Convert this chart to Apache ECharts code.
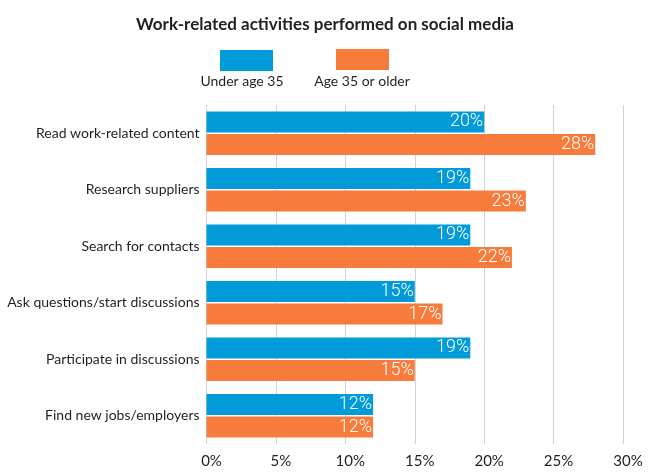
<!DOCTYPE html>
<html>
<head>
<meta charset="utf-8">
<script src="https://cdn.jsdelivr.net/npm/echarts@6/dist/echarts.min.js"></script>
<style>
html,body{margin:0;padding:0;background:#fff;}
#chart{width:650px;height:476px;}
</style>
</head>
<body>
<div id="chart"></div>
<script>
var categories = [
  'Read work-related content',
  'Research suppliers',
  'Search for contacts',
  'Ask questions/start discussions',
  'Participate in discussions',
  'Find new jobs/employers'
];
var seriesNames = ['Under age 35', 'Age 35 or older'];
var underAge35 = [20, 19, 19, 15, 19, 12];
var age35OrOlder = [28, 23, 22, 17, 15, 12];
var xTicks = [0, 5, 10, 15, 20, 25, 30];

var BLUE = '#009bd8';
var ORANGE = '#f77c3b';
var FONT = 'Lato, "Liberation Sans", sans-serif';
var TXT = '#231f20';

var chart = echarts.init(document.getElementById('chart'), null, {renderer: 'canvas'});

function valueLabel() {
  return {
    show: true,
    position: 'insideRight',
    distance: 1,
    formatter: '{c}%',
    color: '#ffffff',
    fontFamily: 'Roboto, sans-serif',
    fontWeight: 300,
    fontSize: 18
  };
}

var option = {
  animation: false,
  backgroundColor: '#ffffff',
  title: {
    text: 'Work-related activities performed on social media',
    left: 'center',
    top: 11,
    textStyle: {
      fontFamily: FONT,
      fontWeight: 'bold',
      fontSize: 17,
      color: TXT
    }
  },
  legend: [
    {
      data: [seriesNames[0]],
      left: 215, top: 45,
      icon: 'rect',
      itemWidth: 53, itemHeight: 21,
      formatter: function () { return ''; },
      selectedMode: false
    },
    {
      data: [seriesNames[1]],
      left: 331, top: 44,
      icon: 'rect',
      itemWidth: 53, itemHeight: 21,
      formatter: function () { return ''; },
      selectedMode: false
    }
  ],
  graphic: [
    {
      type: 'text', x: 242, y: 81,
      style: {text: seriesNames[0], fontFamily: FONT, fontSize: 14, fill: TXT,
              align: 'center', verticalAlign: 'middle'}
    },
    {
      type: 'text', x: 362, y: 81,
      style: {text: seriesNames[1], fontFamily: FONT, fontSize: 14, fill: TXT,
              align: 'center', verticalAlign: 'middle'}
    }
  ],
  grid: {
    left: 206.5,
    right: 27,
    top: 105,
    bottom: 32,
    containLabel: false,
    outerBoundsMode: 'none'
  },
  xAxis: {
    type: 'value',
    min: xTicks[0],
    max: xTicks[xTicks.length - 1],
    interval: xTicks[1] - xTicks[0],
    axisLine: {show: false},
    axisTick: {show: false},
    splitLine: {show: true, lineStyle: {color: '#d2d2d8', width: 1}},
    axisLabel: {
      formatter: '{value}%',
      fontFamily: FONT,
      fontSize: 15,
      color: TXT,
      margin: 10,
      padding: [0, 0, 0, 10]
    }
  },
  yAxis: {
    type: 'category',
    data: categories,
    inverse: true,
    axisLine: {show: false},
    axisTick: {show: false},
    splitLine: {show: false},
    axisLabel: {
      fontFamily: FONT,
      fontSize: 14,
      color: TXT,
      margin: 7
    }
  },
  series: [
    {
      name: seriesNames[0],
      type: 'bar',
      data: underAge35,
      barWidth: 21,
      barGap: '8%',
      itemStyle: {color: BLUE},
      label: valueLabel()
    },
    {
      name: seriesNames[1],
      type: 'bar',
      data: age35OrOlder,
      barWidth: 21,
      barGap: '8%',
      itemStyle: {color: ORANGE},
      label: valueLabel()
    }
  ]
};
chart.setOption(option);
</script>
</body>
</html>
